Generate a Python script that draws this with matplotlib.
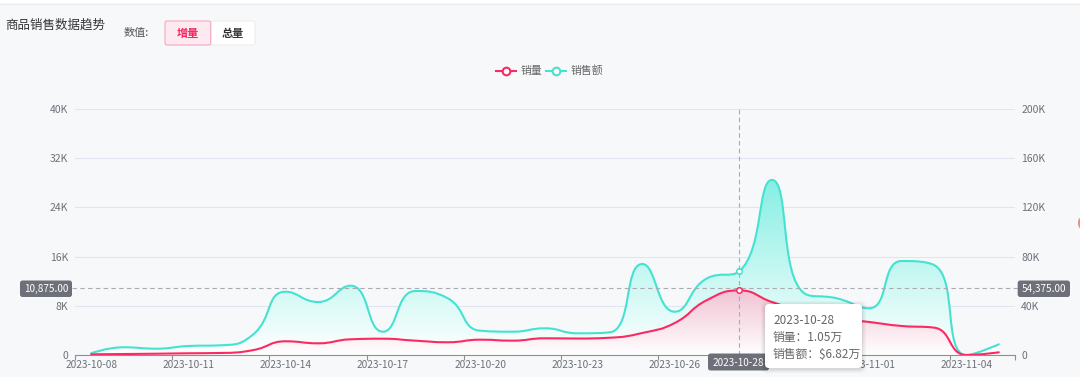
import math

import numpy as np
import matplotlib
matplotlib.use("Agg")
from matplotlib import pyplot as plt
from matplotlib import colors as mcolors
from matplotlib.path import Path
from matplotlib.patches import PathPatch, FancyBboxPatch, Rectangle, Ellipse
from matplotlib.lines import Line2D
from matplotlib.transforms import Affine2D

plt.rcParams['font.family'] = ['Noto Sans CJK SC', 'DejaVu Sans']

dates = [
    '2023-10-08', '2023-10-09', '2023-10-10', '2023-10-11', '2023-10-12',
    '2023-10-13', '2023-10-14', '2023-10-15', '2023-10-16', '2023-10-17',
    '2023-10-18', '2023-10-19', '2023-10-20', '2023-10-21', '2023-10-22',
    '2023-10-23', '2023-10-24', '2023-10-25', '2023-10-26', '2023-10-27',
    '2023-10-28', '2023-10-29', '2023-10-30', '2023-10-31', '2023-11-01',
    '2023-11-02', '2023-11-03', '2023-11-04', '2023-11-05',
]

# 销量 (left axis)
sales_qty = [
    110, 160, 210, 280, 330, 800, 2230, 1900, 2550, 2650,
    2330, 2070, 2490, 2330, 2720, 2680, 2810, 3580, 5200, 8940,
    10500, 8620, 6990, 6020, 5370, 4720, 4450, 0, 440,
]

# 销售额 (right axis)
sales_amt = [
    1400, 6260, 5120, 7320, 7890, 16800, 51460, 43090, 56340, 18940,
    52030, 46100, 19760, 18940, 21700, 17640, 18460, 74000, 35200, 62360,
    68200, 142300, 50160, 46100, 37970, 76420, 73170, 0, 8700,
]

left_ticks = [0, 8000, 16000, 24000, 32000, 40000]
left_labels = ['0', '8K', '16K', '24K', '32K', '40K']
right_ticks = [0, 40000, 80000, 120000, 160000, 200000]
right_labels = ['0', '40K', '80K', '120K', '160K', '200K']

hover_idx = 20
hover_left = '10,875.00'
hover_right = '54,375.00'
hover_y = 10875

RED = '#fb2a62'
TEAL = '#45e2d2'
BG = '#f7f8fa'
AXIS = '#8c8f96'
LABEL = '#6e7079'
TOP = 20  # zorder for page overlays


def smooth_path(xs, ys, sx, sy, smooth=0.5):
    # bezier control points like echarts' smooth line (no overshoot)
    px = [x * sx for x in xs]
    py = [y * sy for y in ys]
    verts = [(px[0], py[0])]
    cp0 = (px[0], py[0])
    n = len(px)
    for i in range(1, n):
        x, y = px[i], py[i]
        x0, y0 = px[i - 1], py[i - 1]
        if i == n - 1:
            cp1 = (x, y)
            nxt = None
        else:
            x1, y1 = px[i + 1], py[i + 1]
            vx, vy = x1 - x0, y1 - y0
            l0 = math.hypot(x - x0, y - y0)
            l1 = math.hypot(x1 - x, y1 - y)
            r = l1 / (l0 + l1)
            ncx = x + vx * smooth * r
            ncy = y + vy * smooth * r
            ncx = max(min(ncx, max(x1, x)), min(x1, x))
            ncy = max(min(ncy, max(y1, y)), min(y1, y))
            vx, vy = ncx - x, ncy - y
            c1x = x - vx * l0 / l1
            c1y = y - vy * l0 / l1
            c1x = max(min(c1x, max(x0, x)), min(x0, x))
            c1y = max(min(c1y, max(y0, y)), min(y0, y))
            vx, vy = x - c1x, y - c1y
            ncx = x + vx * l1 / l0
            ncy = y + vy * l1 / l0
            cp1 = (c1x, c1y)
            nxt = (ncx, ncy)
        verts += [cp0, cp1, (x, y)]
        cp0 = nxt
    return [(a / sx, b / sy) for a, b in verts]


def draw_series(axis, values, ymax, color, fill_top, z):
    xs = list(range(len(values)))
    sx = 940 / 29
    sy = 246 / ymax
    verts = smooth_path(xs, values, sx, sy)
    codes = [Path.MOVETO] + [Path.CURVE4] * (len(verts) - 1)
    line = PathPatch(Path(verts, codes), facecolor='none', edgecolor=color,
                     lw=1.5, zorder=z + 1, capstyle='round', joinstyle='round')

    area_verts = verts + [(xs[-1], 0), (xs[0], 0), (xs[0], values[0])]
    area_codes = codes + [Path.LINETO, Path.LINETO, Path.CLOSEPOLY]
    area = PathPatch(Path(area_verts, area_codes), facecolor='none',
                     edgecolor='none')
    axis.add_patch(area)
    c = np.array(mcolors.to_rgb(fill_top))
    t = np.linspace(0, 1, 256)[:, None]
    img = (1 - t) + t * c
    im = axis.imshow(img[:, None, :], extent=[-0.5, 28.5, 0, max(values)],
                     origin='lower', aspect='auto', zorder=z,
                     interpolation='bilinear')
    im.set_clip_path(area)
    axis.add_patch(line)


fig = plt.figure(figsize=(10.8, 3.77), dpi=100, facecolor=BG)
# pixel coordinates, origin top-left
T = Affine2D().scale(1, -1).translate(0, 377).scale(0.01) + fig.dpi_scale_trans

ax = fig.add_axes([75 / 1080, 22 / 377, 940 / 1080, 246 / 377])
ax2 = ax.twinx()
ax.set_zorder(ax2.get_zorder() + 1)
ax.patch.set_visible(False)

draw_series(ax2, sales_amt, 200000, TEAL, '#86efe4', 2)
draw_series(ax, sales_qty, 40000, RED, '#f1c3d4', 2)

for a in (ax, ax2):
    a.set_xlim(-0.5, 28.5)
    for s in a.spines.values():
        s.set_visible(False)
ax.set_ylim(0, 40000)
ax2.set_ylim(0, 200000)

ax.spines['bottom'].set_visible(True)
ax.spines['bottom'].set_color(AXIS)
ax.spines['bottom'].set_linewidth(0.8)

ax.set_yticks(left_ticks)
ax.set_yticklabels(left_labels)
ax2.set_yticks(right_ticks)
ax2.set_yticklabels(right_labels)
ax.tick_params(axis='y', length=0, pad=5, labelsize=7.5, labelcolor=LABEL)
ax2.tick_params(axis='y', length=0, pad=4.5, labelsize=7.5, labelcolor=LABEL)
ax2.yaxis.grid(True, color='#e0e6f1', lw=0.75)
ax2.set_axisbelow(True)

ax.set_xticks(range(0, 29, 3))
ax.set_xticklabels(dates[::3])
ax.set_xticks([k - 0.5 for k in range(0, 29, 3)] + [28.5], minor=True)
ax.tick_params(axis='x', which='major', length=0, pad=3.5, labelsize=7.3,
               labelcolor=LABEL)
ax.tick_params(axis='x', which='minor', length=3.6, width=0.8, color=AXIS)

# crosshair
ax.axhline(hover_y, xmin=-3 / 940, xmax=1 + 3 / 940, color='#a9acb2', lw=0.8,
           ls=(0, (4, 3)), zorder=6, clip_on=False)
ax.axvline(hover_idx, color='#a9acb2', lw=0.8, ls=(0, (4, 3)), zorder=6)
ax.plot([hover_idx], [sales_qty[hover_idx]], 'o', ms=4, mfc='white', mec=RED,
        mew=1.1, zorder=8)
ax2.plot([hover_idx], [sales_amt[hover_idx]], 'o', ms=4, mfc='white', mec=TEAL,
         mew=1.1, zorder=8)

# header
fig.add_artist(Rectangle((0, 0), 1080, 3, transform=T, fc='white', ec='none',
                         zorder=TOP))
fig.add_artist(Line2D([0, 1080], [3.5, 3.5], transform=T, color='#e8e8ea',
                      lw=0.6, zorder=TOP))
fig.text(5, 25, '商品销售数据趋势', transform=T, fontsize=9, color='#333333',
         va='center', ha='left', zorder=TOP + 1)
fig.text(124, 33, '数值:', transform=T, fontsize=8, color='#555555',
         va='center', ha='left', zorder=TOP + 1)
fig.add_artist(FancyBboxPatch((210.7, 21), 44.3, 24, transform=T,
                              boxstyle='round,pad=0,rounding_size=2',
                              fc='white', ec='#ececec', lw=0.8, zorder=TOP))
fig.add_artist(FancyBboxPatch((165, 21), 45.7, 24, transform=T,
                              boxstyle='round,pad=0,rounding_size=2',
                              fc='#fde9f0', ec='#f7a6c0', lw=0.8, zorder=TOP))
fig.text(187.8, 33, '增量', transform=T, fontsize=8, color='#f5235b',
         fontweight='bold', va='center', ha='center', zorder=TOP + 1)
fig.text(232.8, 33, '总量', transform=T, fontsize=8, color='#333333',
         fontweight='bold', va='center', ha='center', zorder=TOP + 1)

# legend
for x0, color, name in [(496, RED, '销量'), (546, TEAL, '销售额')]:
    fig.add_artist(Line2D([x0, x0 + 20], [70.5, 70.5], transform=T, color=color,
                          lw=1.5, zorder=TOP))
    fig.add_artist(Line2D([x0 + 10], [70.5], transform=T, marker='o', ms=5.5,
                          mfc='white', mec=color, mew=1.5, ls='none',
                          zorder=TOP))
    fig.text(x0 + 24.5, 71, name, transform=T, fontsize=7.8, color='#666666',
             va='center', ha='left', zorder=TOP + 1)

# crosshair labels
for (bx, by, bw, bh), txt in [((20, 280.5, 52, 16.5), hover_left),
                              ((1017.7, 280.5, 52.3, 16.5), hover_right),
                              ((708, 353.5, 61, 17), dates[hover_idx])]:
    fig.add_artist(FancyBboxPatch((bx, by), bw, bh, transform=T,
                                  boxstyle='round,pad=0,rounding_size=2.5',
                                  fc='#6e7079', ec='none', zorder=TOP))
    fig.text(bx + bw / 2, by + bh / 2 + 0.5, txt, transform=T, fontsize=7.2,
             color='white', va='center', ha='center', zorder=TOP + 1)

# tooltip
for grow, alpha in [(4, 0.03), (2.5, 0.04), (1.2, 0.06)]:
    fig.add_artist(FancyBboxPatch((765 - grow, 304 - grow + 1), 97 + 2 * grow,
                                  64 + 2 * grow, transform=T,
                                  boxstyle='round,pad=0,rounding_size=5',
                                  fc='black', ec='none', alpha=alpha,
                                  zorder=TOP + 2))
fig.add_artist(FancyBboxPatch((765, 304), 97, 64, transform=T,
                              boxstyle='round,pad=0,rounding_size=4',
                              fc='white', ec='none', zorder=TOP + 3))
tip_lines = [dates[hover_idx],
             '销量：{:.2f}万'.format(sales_qty[hover_idx] / 10000),
             '销售额：${:.2f}万'.format(sales_amt[hover_idx] / 10000)]
for k, txt in enumerate(tip_lines):
    fig.text(773, 321 + k * 16.5, txt, transform=T, fontsize=8.5,
             color='#666666', va='center', ha='left', zorder=TOP + 4)

# page edge mark
fig.add_artist(Ellipse((1080, 223), 4, 10, transform=T, fc='#f0604a', ec='none',
                       alpha=0.7, zorder=TOP))

fig.savefig('out.png', dpi=100, facecolor=BG)
